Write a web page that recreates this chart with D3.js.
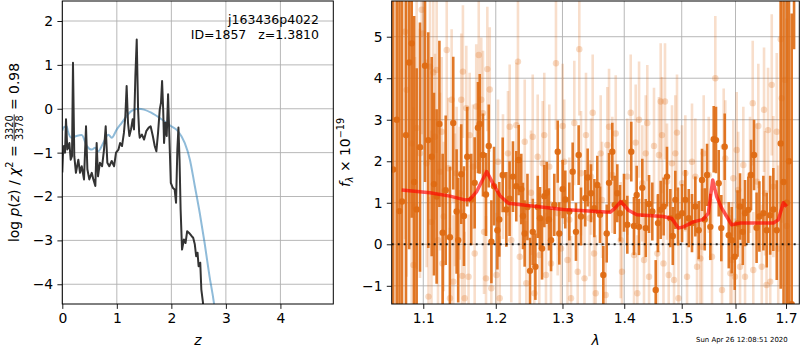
<!DOCTYPE html>
<html><head><meta charset="utf-8">
<script src="https://cdn.jsdelivr.net/npm/d3@7"></script>
<style>body{margin:0;background:#fff} text{font-family:"DejaVu Sans",sans-serif}</style>
</head><body><svg id="c" width="800" height="350"></svg>
<script>
// ---------- Left panel data: log p(z) and chi2 curve ----------
const zP = [0.000,0.012,0.030,0.050,0.068,0.092,0.130,0.154,0.178,0.196,
0.220,0.250,0.294,0.325,0.356,0.398,0.435,0.460,0.495,0.540,
0.570,0.606,0.630,0.655,0.690,0.730,0.765,0.796,0.826,0.862,
0.906,0.950,0.985,1.030,1.060,1.095,1.130,1.156,1.180,1.205,
1.230,1.260,1.290,1.315,1.340,1.365,1.390,1.410,1.420,1.460,
1.500,1.540,1.585,1.620,1.660,1.695,1.725,1.756,1.787,1.810,
1.830,1.850,1.866,1.890,1.915,1.940,1.963,1.990,2.025,2.060,
2.086,2.110,2.130,2.150,2.170,2.196,2.230,2.260,2.290,2.325,
2.370,2.400,2.430,2.455,2.480,2.500,2.530,2.550,2.580,2.620,
2.700];
const logPz = [-1.45,-1.05,-0.85,-1.00,-0.24,-0.93,-0.78,-1.16,-1.08,1.05,
-1.08,-1.46,-1.16,-1.46,-1.31,-1.61,-0.40,-1.38,-1.61,-1.46,
-1.61,-1.76,-0.78,-1.54,-1.23,-1.31,-0.93,-0.40,-1.23,-1.31,
-1.19,-1.31,-1.00,-0.93,-0.78,-0.85,-0.55,-0.17,0.52,-0.32,
-0.62,-0.47,-0.24,-0.47,0.74,1.58,-0.02,-0.55,-0.66,-0.59,
-0.70,-0.51,-0.43,-0.40,-0.62,-0.85,-0.97,-0.55,-0.02,0.14,
0.63,-0.02,-0.78,-0.32,-0.62,0.33,-0.62,-1.69,-1.80,-1.84,
-2.14,-0.93,-0.43,-1.16,-2.30,-3.21,-2.98,-3.06,-2.79,-2.83,
-2.90,-2.94,-3.09,-3.36,-3.28,-3.59,-3.51,-4.12,-4.42,-5.20,
-6.50];
const zChi = [0.000,0.020,0.080,0.100,0.170,0.260,0.356,0.450,0.540,0.600,
0.660,0.750,0.845,0.905,1.000,1.090,1.180,1.270,1.390,1.500,
1.630,1.820,2.000,2.120,2.245,2.340,2.430,2.520,2.610,2.700,
2.780,2.850];
const logChi = [-0.50,-0.43,-0.40,-0.50,-0.66,-0.62,-0.60,-0.85,-0.93,-0.89,
-0.97,-0.78,-0.59,-0.66,-0.47,-0.32,-0.17,-0.05,0.00,-0.02,
-0.09,-0.24,-0.40,-0.51,-0.78,-1.16,-1.76,-2.37,-3.06,-3.82,
-4.42,-5.20];
const zTicks = [0,1,2,3,4];
const lpTicks = [-4,-3,-2,-1,0,1,2];

// ---------- Right panel data: spectrum, two orients + model ----------
const lamA = [1.0610,1.0655,1.0690,1.0723,1.0774,1.0816,1.0848,1.0880,1.0913,1.0957,
1.1023,1.1066,1.1112,1.1142,1.1178,1.1215,1.1259,1.1300,1.1358,1.1403,
1.1449,1.1471,1.1513,1.1550,1.1596,1.1652,1.1700,1.1746,1.1771,1.1817,
1.1860,1.1899,1.1937,1.1975,1.2023,1.2051,1.2100,1.2153,1.2200,1.2250,
1.2299,1.2334,1.2373,1.2398,1.2423,1.2465,1.2503,1.2545,1.2584,1.2620,
1.2654,1.2685,1.2720,1.2757,1.2790,1.2823,1.2873,1.2926,1.2950,1.3003,
1.3044,1.3107,1.3160,1.3212,1.3255,1.3292,1.3360,1.3399,1.3453,1.3507,
1.3555,1.3599,1.3653,1.3709,1.3747,1.3801,1.3841,1.3884,1.3929,1.3996,
1.4052,1.4119,1.4165,1.4211,1.4250,1.4307,1.4366,1.4423,1.4480,1.4539,
1.4579,1.4626,1.4678,1.4737,1.4796,1.4840,1.4885,1.4933,1.5005,1.5065,
1.5127,1.5186,1.5247,1.5309,1.5370,1.5420,1.5463,1.5524,1.5587,1.5630,
1.5681,1.5730,1.5794,1.5871,1.5928,1.5985,1.6040,1.6087,1.6140,1.6184,
1.6248,1.6301,1.6360,1.6410,1.6465,1.6544,1.6611,1.6680,1.6743,1.6812,
1.6892,1.6950,1.7014,1.7060,1.7116,1.7165];
const fluxA = [1.8,3.0,0.8,1.03,2.63,4.38,4.84,1.5,0.84,2.34,
4.30,2.51,2.11,1.45,1.15,2.9,0.28,1.3,0.17,2.92,
0.79,0.10,1.69,0.68,2.11,1.08,1.48,2.81,2.90,2.15,
1.2,2.37,0.06,1.40,0.34,0.60,1.67,0.84,1.1,1.63,
1.40,2.03,1.33,0.68,0.26,0.9,-0.64,0.3,-0.54,0.9,
0.63,-0.10,1.16,1.24,0.6,0.10,0.95,2.23,0.26,1.33,
1.08,0.79,1.75,0.30,2.15,0.67,1.11,1.61,1.23,0.87,
1.43,0.71,-0.74,0.26,1.48,2.23,0.95,1.23,0.75,1.00,
0.47,2.23,0.44,1.19,0.42,1.36,0.39,0.97,0.79,-1.10,
0.51,0.83,0.91,1.63,0.63,0.2,1.07,0.67,0.75,1.07,
0.63,0.51,0.91,0.34,1.55,0.6,1.67,0.42,2.53,2.51,
1.47,0.39,2.35,0.22,0.10,-0.3,0.5,0.91,0.3,0.75,
0.83,1.67,2.15,0.4,0.67,0.75,0.34,0.7,0.84,0.34,
2.43,1.5,1.0,2.0,-1.44,9.0];
const errA = [7.5,6.0,6.5,5.5,5.0,4.5,4.2,4.0,3.4,3.0,
2.8,2.6,2.4,2.2,2.1,2.0,1.9,1.8,1.7,1.6,
1.5,1.5,1.2,1.2,1.2,1.1,1.1,1.1,1.2,1.0,
1.0,1.0,1.0,0.95,0.95,0.9,0.9,0.9,0.9,0.85,
0.85,0.85,0.85,0.8,0.8,0.8,0.8,0.8,0.8,0.75,
0.75,0.75,0.75,0.75,0.75,0.75,0.75,0.75,0.75,0.7,
0.7,0.7,0.7,0.7,0.72,0.7,0.68,0.7,0.7,0.7,
0.7,0.68,0.7,0.7,0.72,0.7,0.7,0.7,0.68,0.7,
0.7,0.72,0.7,0.7,0.68,0.7,0.7,0.7,0.7,0.72,
0.7,0.7,0.7,0.72,0.7,0.7,0.7,0.7,0.7,0.72,
0.7,0.7,0.72,0.7,0.75,0.75,0.75,0.8,0.8,0.8,
0.8,0.8,0.8,0.8,0.8,0.8,0.8,0.8,0.8,0.8,
0.8,0.85,0.85,0.85,0.85,0.9,0.9,0.95,1.0,1.2,
3.5,5.0,6.0,7.0,7.0,4.3];

const lamB = [1.0761,1.0783,1.0848,1.0871,1.0891,1.0913,1.0957,1.0979,1.1000,1.1045,
1.1069,1.1089,1.1109,1.1133,1.1156,1.1178,1.1196,1.1223,1.1246,1.1257,
1.1274,1.1314,1.1335,1.1358,1.1381,1.1403,1.1426,1.1449,1.1491,1.1513,
1.1525,1.1536,1.1560,1.1583,1.1614,1.1630,1.1676,1.1700,1.1722,1.1757,
1.1793,1.1817,1.1832,1.1860,1.1879,1.1913,1.1936,1.2010,1.2032,1.2057,
1.2104,1.2177,1.2202,1.2225,1.2299,1.2324,1.2350,1.2424,1.2448,1.2518,
1.2544,1.2568,1.2619,1.2643,1.2695,1.2719,1.2745,1.2796,1.2822,1.2899,
1.2925,1.2977,1.3003,1.3028,1.3079,1.3107,1.3134,1.3186,1.3240,1.3265,
1.3292,1.3348,1.3372,1.3429,1.3453,1.3480,1.3502,1.3529,1.3610,1.3632,
1.3692,1.3719,1.3747,1.3801,1.3858,1.3941,1.3962,1.4052,1.4109,1.4165,
1.4194,1.4222,1.4251,1.4307,1.4336,1.4366,1.4393,1.4423,1.4509,1.4567,
1.4596,1.4626,1.4649,1.4675,1.4702,1.4737,1.4767,1.4826,1.4862,1.4885,
1.4915,1.4942,1.5005,1.5065,1.5096,1.5186,1.5247,1.5278,1.5339,1.5370,
1.5401,1.5494,1.5555,1.5617,1.5743,1.5775,1.5805,1.5901,1.5929,1.5958,
1.5990,1.6023,1.6052,1.6087,1.6151,1.6184,1.6281,1.6334,1.6345,1.6415,
1.6444,1.6512,1.6557,1.6577,1.6607,1.6637,1.6681,1.6711,1.6743,1.6812,
1.6842,1.6892,1.6912,1.6980,1.7014];
const fluxB = [5.12,3.72,2.43,-0.50,0.91,2.80,2.19,5.65,5.08,1.95,
-1.26,4.28,0.54,4.14,2.59,4.20,0.10,1.75,2.71,-0.46,
0.67,4.68,1.83,-1.30,3.48,-0.90,1.07,1.71,1.23,3.48,
-0.76,4.16,-1.30,3.28,-0.78,2.63,1.87,-0.22,3.32,4.56,
3.48,3.16,0.30,-0.82,4.22,3.73,-1.06,-0.74,1.99,-1.30,
1.63,2.19,2.83,0.10,2.87,4.40,-0.30,2.47,-0.94,1.24,
2.59,-1.18,2.11,-0.26,1.95,2.63,-0.74,1.87,-0.46,4.36,
0.75,-0.10,2.85,1.99,-0.38,0.59,-1.30,2.92,-0.66,4.70,
1.71,-0.82,2.63,0.63,1.63,3.17,-0.22,-1.18,2.19,1.07,
-1.22,2.39,2.83,1.67,2.67,0.10,-0.66,1.63,3.17,-0.26,
2.45,-1.18,3.00,1.47,-0.38,2.19,2.92,-0.78,2.37,-0.22,
2.15,3.44,2.63,-0.46,3.44,1.51,-0.74,1.95,-0.86,2.19,
2.69,-1.30,1.47,1.71,-0.78,1.99,1.63,-0.54,-0.34,-0.06,
2.19,1.67,-0.30,4.00,-1.10,2.35,2.07,-0.70,-0.38,1.59,
-0.78,2.27,1.31,-0.54,1.91,-0.78,1.67,3.40,-0.62,1.51,
2.85,-0.54,3.24,1.23,-0.98,2.75,-0.90,3.84,1.39,2.71,
-0.10,4.94,3.52,3.96,0.44];
const errB = [5.0,4.5,4.0,3.8,3.6,3.4,3.0,3.0,2.8,2.5,
2.4,2.3,2.2,2.1,2.0,2.0,1.9,1.9,1.8,1.8,
1.8,1.7,1.7,1.7,1.7,1.6,1.6,1.6,1.6,1.6,
1.6,1.6,1.6,1.5,1.5,1.5,1.5,1.5,1.5,1.5,
1.5,1.5,1.5,1.5,1.5,1.5,1.5,1.5,1.5,1.5,
1.5,1.5,1.5,1.5,1.5,1.5,1.5,1.5,1.5,1.5,
1.5,1.5,1.5,1.5,1.5,1.5,1.5,1.5,1.5,1.6,
1.5,1.5,1.5,1.5,1.5,1.5,1.5,1.5,1.5,1.6,
1.5,1.5,1.5,1.4,1.4,1.4,1.4,1.4,1.4,1.4,
1.4,1.4,1.4,1.4,1.4,1.4,1.4,1.4,1.4,1.4,
1.4,1.4,1.4,1.4,1.4,1.4,1.4,1.4,1.4,1.4,
1.4,1.4,1.4,1.4,1.4,1.4,1.4,1.4,1.4,1.4,
1.4,1.4,1.4,1.4,1.4,1.4,1.4,1.4,1.4,1.4,
1.4,1.4,1.4,1.5,1.4,1.4,1.4,1.4,1.4,1.4,
1.4,1.4,1.4,1.4,1.4,1.4,1.4,1.5,1.4,1.4,
1.5,1.5,1.5,1.5,1.5,1.5,1.6,1.7,1.7,1.9,
2.0,2.5,3.0,4.0,5.0];

const lamModel = [1.0719,1.1089,1.1358,1.1564,1.1634,1.1728,1.1870,1.1964,1.2061,1.2182,
1.2503,1.3012,1.3763,1.3846,1.3941,1.4071,1.4212,1.4672,1.4821,1.4939,
1.5029,1.5210,1.5394,1.5487,1.5568,1.5643,1.5737,1.5832,1.5927,1.6087,
1.6743,1.6844,1.6945,1.7014];
const fluxModel = [1.31,1.24,1.16,1.07,1.08,1.27,1.75,1.45,1.17,0.99,
0.93,0.84,0.77,0.87,1.03,0.82,0.71,0.67,0.62,0.39,
0.42,0.54,0.60,0.75,1.55,1.15,0.87,0.67,0.47,0.51,
0.51,0.59,1.00,0.91];
const lamTicks = [1.1,1.2,1.3,1.4,1.5,1.6,1.7];
const fTicks = [-1,0,1,2,3,4,5];

// ---------- drawing ----------
const svg = d3.select('#c');
const FS = 13.9;
const L = {x0:62.3, x1:333.3, y0:1, y1:304};
const R = {x0:391.7, x1:799.3, y0:1, y1:304};
const xz = d3.scaleLinear().domain([0,4.97]).range([L.x0,L.x1]);
const ylp = d3.scaleLinear().domain([-4.45,2.456]).range([L.y1,L.y0]);
const xl = d3.scaleLog().domain([1.0591,1.7273]).range([R.x0,R.x1]);
const yf = d3.scaleLinear().domain([-1.438,5.86]).range([R.y1,R.y0]);

const defs = svg.append('defs');
[['clipL',L],['clipR',R]].forEach(([id,P])=>{
  defs.append('clipPath').attr('id',id).append('rect')
    .attr('x',P.x0).attr('y',P.y0).attr('width',P.x1-P.x0).attr('height',P.y1-P.y0);
});

function grid(P, xs, ys, xt, yt){
  const g = svg.append('g').attr('stroke','#b0b0b0').attr('stroke-width',0.9);
  g.selectAll('.v').data(xt).join('line').attr('x1',d=>xs(d)).attr('x2',d=>xs(d)).attr('y1',P.y0).attr('y2',P.y1);
  g.selectAll('.h').data(yt).join('line').attr('y1',d=>ys(d)).attr('y2',d=>ys(d)).attr('x1',P.x0).attr('x2',P.x1);
}
function axes(P, xs, ys, xt, yt, xf, yf_){
  const gx = svg.append('g').attr('transform',`translate(0,${P.y1})`)
    .call(d3.axisBottom(xs).tickValues(xt).tickFormat(xf).tickSize(4.9).tickPadding(4.2));
  const gy = svg.append('g').attr('transform',`translate(${P.x0},0)`)
    .call(d3.axisLeft(ys).tickValues(yt).tickFormat(yf_).tickSize(4.9).tickPadding(4.2));
  [gx,gy].forEach(g=>{
    g.select('.domain').remove();
    g.selectAll('text').attr('font-size',FS).attr('font-family','DejaVu Sans').attr('fill','#000');
    g.selectAll('line').attr('stroke','#000').attr('stroke-width',0.9);
  });
  svg.append('rect').attr('x',P.x0).attr('y',P.y0).attr('width',P.x1-P.x0).attr('height',P.y1-P.y0)
    .attr('fill','none').attr('stroke','#000').attr('stroke-width',1);
}

// Left panel
grid(L, xz, ylp, zTicks, lpTicks);
const gL = svg.append('g').attr('clip-path','url(#clipL)');
gL.append('path').datum(d3.range(zChi.length))
  .attr('d', d3.line().x(i=>xz(zChi[i])).y(i=>ylp(logChi[i])).curve(d3.curveMonotoneX))
  .attr('fill','none').attr('stroke','#1f77b4').attr('stroke-opacity',0.5).attr('stroke-width',2);
gL.append('path').datum(d3.range(zP.length))
  .attr('d', d3.line().x(i=>xz(zP[i])).y(i=>ylp(logPz[i])))
  .attr('fill','none').attr('stroke','#333333').attr('stroke-width',2).attr('stroke-linejoin','round');
axes(L, xz, ylp, zTicks, lpTicks, d3.format('d'), d3.format('d'));

svg.append('text').attr('x',319).attr('y',24).attr('text-anchor','end').attr('font-size',12.5).text('j163436p4022');
svg.append('text').attr('x',319).attr('y',39.3).attr('text-anchor','end').attr('font-size',12.5)
  .style('white-space','pre').text('ID=1857   z=1.3810');
svg.append('text').attr('x',(L.x0+L.x1)/2).attr('y',345).attr('text-anchor','middle')
  .attr('font-size',FS).attr('font-style','italic').text('z');

// left y label (math)
(function(){
  const g0 = svg.append('g').attr('transform','translate(18.5,152.5) rotate(-90)');
  const g = g0.append('g');
  const t1 = g.append('text').attr('font-size',FS).style('white-space','pre');
  t1.append('tspan').text('log ');
  t1.append('tspan').attr('font-style','italic').text('p');
  t1.append('tspan').text('(');
  t1.append('tspan').attr('font-style','italic').text('z');
  t1.append('tspan').text(') / ');
  t1.append('tspan').attr('font-style','italic').text('χ');
  t1.append('tspan').attr('font-size',9.7).attr('dy',-5.5).text('2');
  t1.append('tspan').attr('dy',5.5).text(' = ');
  const w1 = t1.node().getComputedTextLength();
  const fsz = 9.7;
  const num = g.append('text').attr('font-size',fsz).attr('y',-6).text('3320');
  const den = g.append('text').attr('font-size',fsz).attr('y',4.8).text('3378');
  const wn = num.node().getComputedTextLength(), wd = den.node().getComputedTextLength();
  const fw = Math.max(wn,wd)+2;
  num.attr('x', w1 + (fw-wn)/2);
  den.attr('x', w1 + (fw-wd)/2);
  g.append('line').attr('x1',w1).attr('x2',w1+fw).attr('y1',-4.3).attr('y2',-4.3).attr('stroke','#000').attr('stroke-width',0.8);
  const t3 = g.append('text').attr('font-size',FS).attr('x',w1+fw).style('white-space','pre').text(' = 0.98');
  const W = w1 + fw + t3.node().getComputedTextLength();
  g.attr('transform',`translate(${-W/2},0)`);
})();

// Right panel
grid(R, xl, yf, lamTicks, fTicks);
const gR = svg.append('g').attr('clip-path','url(#clipR)');
const ORANGE = '#de6a12';
const idxB = d3.range(lamB.length), idxA = d3.range(lamA.length);
gR.append('g').selectAll('line').data(idxB).join('line')
  .attr('x1',i=>xl(lamB[i])).attr('x2',i=>xl(lamB[i]))
  .attr('y1',i=>yf(fluxB[i]-errB[i])).attr('y2',i=>yf(fluxB[i]+errB[i]))
  .attr('stroke',ORANGE).attr('stroke-opacity',0.22).attr('stroke-width',2.6);
gR.append('g').selectAll('circle').data(idxB).join('circle')
  .attr('cx',i=>xl(lamB[i])).attr('cy',i=>yf(fluxB[i])).attr('r',3.2)
  .attr('fill',ORANGE).attr('fill-opacity',0.25);
gR.append('g').selectAll('line').data(idxA).join('line')
  .attr('x1',i=>xl(lamA[i])).attr('x2',i=>xl(lamA[i]))
  .attr('y1',i=>yf(fluxA[i]-errA[i])).attr('y2',i=>yf(fluxA[i]+errA[i]))
  .attr('stroke',ORANGE).attr('stroke-opacity',0.9).attr('stroke-width',2.6);
gR.append('g').selectAll('circle').data(idxA).join('circle')
  .attr('cx',i=>xl(lamA[i])).attr('cy',i=>yf(fluxA[i])).attr('r',3.2)
  .attr('fill',ORANGE).attr('fill-opacity',0.95);
gR.append('path').datum(d3.range(lamModel.length))
  .attr('d', d3.line().x(i=>xl(lamModel[i])).y(i=>yf(fluxModel[i])))
  .attr('fill','none').attr('stroke','#ff0000').attr('stroke-opacity',0.65).attr('stroke-width',3.5)
  .attr('stroke-linejoin','round');
gR.append('line').attr('x1',R.x0).attr('x2',R.x1).attr('y1',yf(0)).attr('y2',yf(0))
  .attr('stroke','#000').attr('stroke-opacity',0.85).attr('stroke-width',2).attr('stroke-dasharray','2,4');
axes(R, xl, yf, lamTicks, fTicks, d3.format('.1f'), d3.format('d'));

svg.append('text').attr('x',(R.x0+R.x1)/2).attr('y',345).attr('text-anchor','middle')
  .attr('font-size',FS).attr('font-style','italic').text('λ');
(function(){
  const g = svg.append('g').attr('transform','translate(349.5,152.5) rotate(-90)');
  const t = g.append('text').attr('font-size',FS).attr('text-anchor','middle').style('white-space','pre');
  t.append('tspan').attr('font-style','italic').text('f');
  t.append('tspan').attr('font-style','italic').attr('font-size',9.7).attr('dy',3).text('λ');
  t.append('tspan').attr('dy',-3).text(' × 10');
  t.append('tspan').attr('font-size',9.7).attr('dy',-6).text('−19');
})();
svg.append('text').attr('x',696).attr('y',342).attr('font-size',6.94).text('Sun Apr 26 12:08:51 2020');
</script></body></html>
